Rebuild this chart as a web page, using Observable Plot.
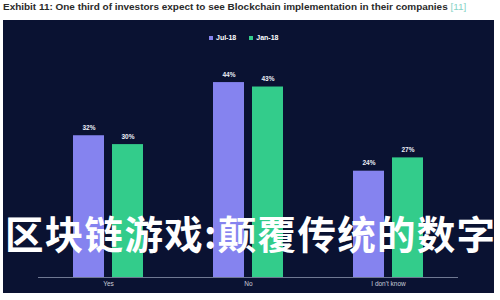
<!DOCTYPE html>
<html><head><meta charset="utf-8">
<script src="https://cdn.jsdelivr.net/npm/d3@7"></script>
<script src="https://cdn.jsdelivr.net/npm/@observablehq/plot@0.6"></script>
<style>
html,body{margin:0;padding:0;background:#fff;width:500px;height:300px;overflow:hidden;font-family:"Liberation Sans",Arial,sans-serif;}
#title{position:absolute;left:3px;top:2px;font-weight:bold;color:#2a2a2a;white-space:nowrap;font-size:8.5px;line-height:10px;}
#title .ref{color:#86d3c6;font-weight:normal;}
#panel{position:absolute;left:3px;top:20px;width:491px;height:273px;background:#0a1232;overflow:hidden;}
#legend{position:absolute;left:206px;top:14px;display:flex;align-items:center;font-size:7px;font-weight:bold;color:#fff;white-space:nowrap;}
#legend .item{display:flex;align-items:center;margin-right:13px;}
#legend .sw{width:4px;height:4px;margin-right:3px;display:inline-block;}
#chart{position:absolute;left:0;top:0;}
#overlay{position:absolute;left:5px;top:213px;font-family:"Noto Sans CJK SC",sans-serif;font-weight:bold;font-size:38.5px;letter-spacing:1.3px;color:#fff;line-height:1;white-space:nowrap;}
</style></head>
<body>
<div id="title"></div>
<div id="panel"><div id="chart"></div><div id="legend"></div></div>
<div id="overlay"></div>
<script>
const titleText = "Exhibit 11: One third of investors expect to see Blockchain implementation in their companies";
const titleRef = "[11]";
const categories = ["Yes", "No", "I don't know"];
const periods = ["Jul-18", "Jan-18"];
const jul18 = [32, 44, 24];
const jan18 = [30, 43, 27];
const colors = ["#8583ef", "#33cc8b"];
const overlayText = "区块链游戏:颠覆传统的数字";

// title
const t = document.getElementById("title");
t.innerHTML = "";
t.append(titleText + " ");
const r = document.createElement("span"); r.className = "ref"; r.textContent = titleRef; t.append(r);
// fit title to end near x=467
let fs = 8.5;
for (let i = 0; i < 30; i++) {
  const w = t.getBoundingClientRect().right;
  if (Math.abs(w - 467) < 1) break;
  fs *= 464 / (w - 3);
  t.style.fontSize = fs + "px";
}

// legend
const lg = document.getElementById("legend");
periods.forEach((p, i) => {
  const it = document.createElement("div"); it.className = "item";
  const sw = document.createElement("span"); sw.className = "sw"; sw.style.background = colors[i];
  it.append(sw, p);
  lg.append(it);
});

const data = [];
categories.forEach((c, i) => {
  data.push({category: c, period: periods[0], value: jul18[i]});
  data.push({category: c, period: periods[1], value: jan18[i]});
});

const plot = Plot.plot({
  width: 491,
  height: 273,
  marginTop: 35.5,
  marginBottom: 16,
  marginLeft: 34,
  marginRight: 35,
  style: {background: "transparent", fontFamily: "Liberation Sans, Arial, sans-serif"},
  fx: {domain: categories, padding: 0, axis: "bottom", label: null, tickSize: 0, tickPadding: 4, fontSize: 6.5},
  x: {domain: periods, paddingInner: 0.2, paddingOuter: 0.86, axis: null},
  y: {domain: [0, 50], axis: null},
  color: {domain: periods, range: colors},
  marks: [
    Plot.barY(data, {fx: "category", x: "period", y: "value", fill: "period"}),
    Plot.ruleY([0], {stroke: "#6f7892", strokeWidth: 1}),
    Plot.text(data, {fx: "category", x: "period", y: "value", text: d => d.value + "%", dy: -8, fill: "#eef0f8", fontSize: 6.5, fontWeight: "bold"})
  ]
});
document.getElementById("chart").append(plot);
// axis label color
plot.querySelectorAll("[aria-label^='fx-axis'] text").forEach(e => { e.setAttribute("fill", "#c9ccd8"); e.style.fontSize = "6.5px"; });

document.getElementById("overlay").textContent = overlayText;
</script>
</body></html>
